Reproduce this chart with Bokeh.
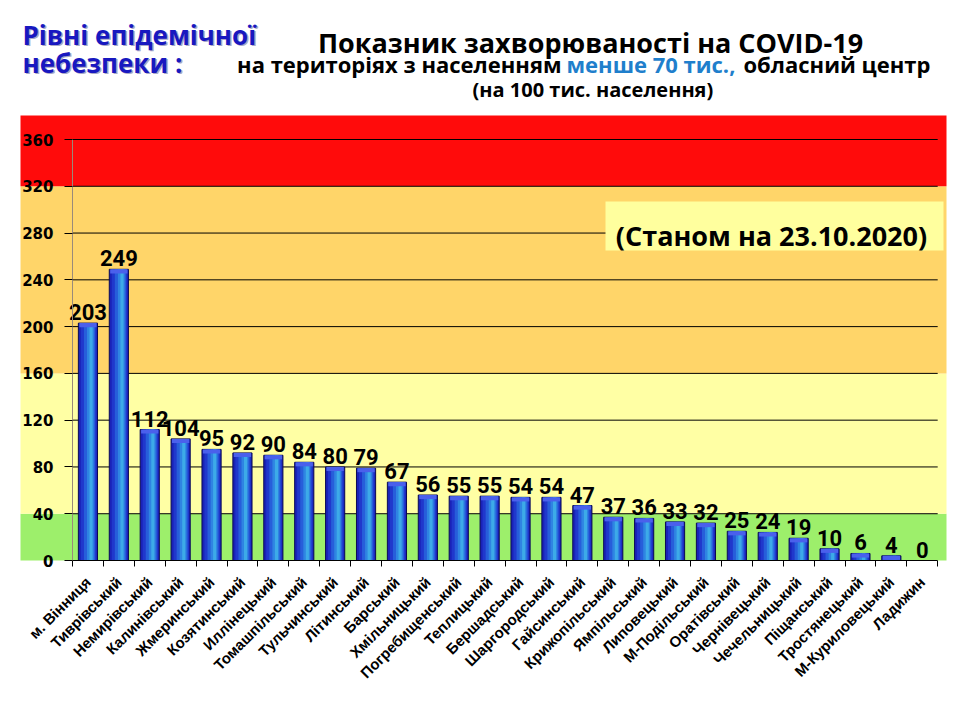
import math
from bokeh.plotting import figure
from bokeh.models import (Range1d, LinearAxis, FixedTicker, BoxAnnotation, Label,
                          ColumnDataSource)
from bokeh.transform import dodge
from bokeh.core.properties import value
from bokeh.embed import file_html
from bokeh.resources import INLINE

# ---------------- data ----------------
districts = ["м. Вінниця", "Тиврівський", "Немирівський", "Калинівський", "Жмеринський",
             "Козятинський", "Иллінецький", "Томашпільський", "Тульчинський", "Літинський",
             "Барський", "Хмільницький", "Погребищенський", "Теплицький", "Бершадський",
             "Шаргородський", "Гайсинський", "Крижопільський", "Ямпільський", "Липовецький",
             "М-Подільський", "Оратівський", "Чернівецький", "Чечельницький", "Піщанський",
             "Тростянецький", "М-Куриловецький", "Ладижин"]
values = [203, 249, 112, 104, 95, 92, 90, 84, 80, 79, 67, 56, 55, 55, 54, 54, 47,
          37, 36, 33, 32, 25, 24, 19, 10, 6, 4, 0]
y_ticks = [0, 40, 80, 120, 160, 200, 240, 280, 320, 360]
band_low = [0, 40, 160, 320]
band_high = [40, 160, 320, 1000]
band_colors = ["#9DEF6B", "#FFFFA4", "#FFD569", "#FF0B0B"]

title_1 = "Показник захворюваності на COVID-19"
title_2a = "на територіях з населенням"
title_2b = "менше 70 тис.,"
title_2c = "обласний центр"
title_3 = "(на 100  тис. населення)"
levels_1 = "Рівні епідемічної"
levels_2 = "небезпеки :"
date_text = "(Станом на 23.10.2020)"

# ---------------- layout helpers (page pixels) ----------------
W, H = 960, 720
FL, FR, FT, FB = 20, 946, 115, 560      # coloured panel edges in px
X0PX, STEP = 72.0, 30.9                 # category axis start, px per category
YSCALE = 421.0 / 360.0                  # px per unit

def dx(px):
    return -0.5 + (px - X0PX) / STEP

def dy(py):
    return (FB - py) / YSCALE

n = len(values)
p = figure(width=W, height=H,
           x_range=Range1d(dx(0), dx(W)), y_range=Range1d(dy(H), dy(0)),
           x_axis_type=None, y_axis_type=None,
           toolbar_location=None, output_backend="svg",
           min_border_left=0, min_border_right=0,
           min_border_top=0, min_border_bottom=0,
           outline_line_color=None, background_fill_color="white",
           border_fill_color="white")

# bands
top_edge = dy(FT)
for lo, hi, c in zip(band_low, band_high, band_colors):
    p.add_layout(BoxAnnotation(left=dx(FL), right=dx(FR), bottom=lo,
                               top=min(hi, top_edge), fill_color=c, fill_alpha=1.0,
                               line_color=None, level="underlay"))

# grid lines (only across the category area)
gl = y_ticks[1:]
p.segment(x0=[-0.5] * len(gl), x1=[n - 0.5] * len(gl), y0=gl, y1=gl,
          line_color="black", line_width=1)

# bars with a pseudo-gradient
src = ColumnDataSource(dict(x=list(range(n)), top=values,
                            cap=[max(v - 3.5, 0) for v in values],
                            label=[str(v) for v in values]))
p.vbar(x="x", top="top", bottom=0, width=0.62, fill_color="#1A22B8",
       line_color="#0A0A55", line_width=1, source=src)
layers = [(0.50, 0.02, "#2038CC"), (0.36, 0.05, "#275EDA"),
          (0.22, 0.08, "#2F84E2"), (0.10, 0.10, "#3DAAE8")]
for w, off, c in layers:
    p.vbar(x=dodge("x", off), top="top", bottom=0, width=w, fill_color=c,
           line_color=None, source=src)
p.vbar(x="x", top="top", bottom="cap", width=0.56, fill_color="#4A60EC",
       line_color=None, source=src)

# value labels
p.text(x="x", y="top", text="label", source=src, text_align="center",
       text_baseline="bottom", y_offset=-3,
       text_font=value("Roboto"), text_font_style="bold",
       text_font_size="22px", text_color="black")

# y axis
yax = LinearAxis(fixed_location=-0.5, bounds=(0, 360),
                 ticker=FixedTicker(ticks=y_ticks, minor_ticks=[]),
                 axis_line_color="#9A8A7A", axis_line_width=1,
                 major_tick_line_color="black", major_tick_in=0, major_tick_out=8,
                 minor_tick_line_color=None, major_label_standoff=11,
                 major_label_text_font="DejaVu Sans", major_label_text_font_style="bold",
                 major_label_text_font_size="15px", major_label_text_color="black")
p.add_layout(yax, "left")

# x axis
xax = LinearAxis(fixed_location=0, bounds=(-0.5, n - 0.5),
                 ticker=FixedTicker(ticks=list(range(n)),
                                    minor_ticks=[i - 0.5 for i in range(n + 1)]),
                 major_label_overrides={i: d for i, d in enumerate(districts)},
                 major_label_orientation=math.pi / 4,
                 axis_line_color="black", axis_line_width=1,
                 major_tick_line_color=None, major_tick_in=0, major_tick_out=0,
                 minor_tick_line_color="black", minor_tick_in=0, minor_tick_out=6,
                 major_label_standoff=13,
                 major_label_text_font="Liberation Sans", major_label_text_font_style="bold",
                 major_label_text_font_size="15px", major_label_text_color="black")
p.add_layout(xax, "below")

# date box
p.add_layout(BoxAnnotation(left=dx(605), right=dx(943), top=dy(201), bottom=dy(250),
                           fill_color="#FFFF9E", fill_alpha=1.0, line_color=None))
p.add_layout(Label(x=dx(771), y=dy(235), text=date_text, text_align="center",
                   text_baseline="alphabetic", text_font="Open Sans",
                   text_font_style="bold", text_font_size="27px", text_color="black"))

# titles
def lab(txt, px, py, size, color="black", align="left", font="Open Sans"):
    p.add_layout(Label(x=dx(px), y=dy(py), text=txt, text_align=align,
                       text_baseline="alphabetic", text_font=font,
                       text_font_style="bold", text_font_size=size,
                       text_color=color))

lab(title_1, 590, 42, "27px", align="center")
lab(title_2a, 561, 63, "22px", align="right")
lab(title_2b, 566, 63, "22px", color="#1F7FCC")
lab(title_2c, 743, 63, "22px")
lab(title_3, 595, 89, "20px", align="center")

for t, py in ((levels_1, 34), (levels_2, 62)):
    lab(t, 23.5, py + 1.5, "26px", color="#A8A8C8")
    lab(t, 22, py, "26px", color="#1818C0")

open("out.html", "w").write(file_html(p, INLINE))
